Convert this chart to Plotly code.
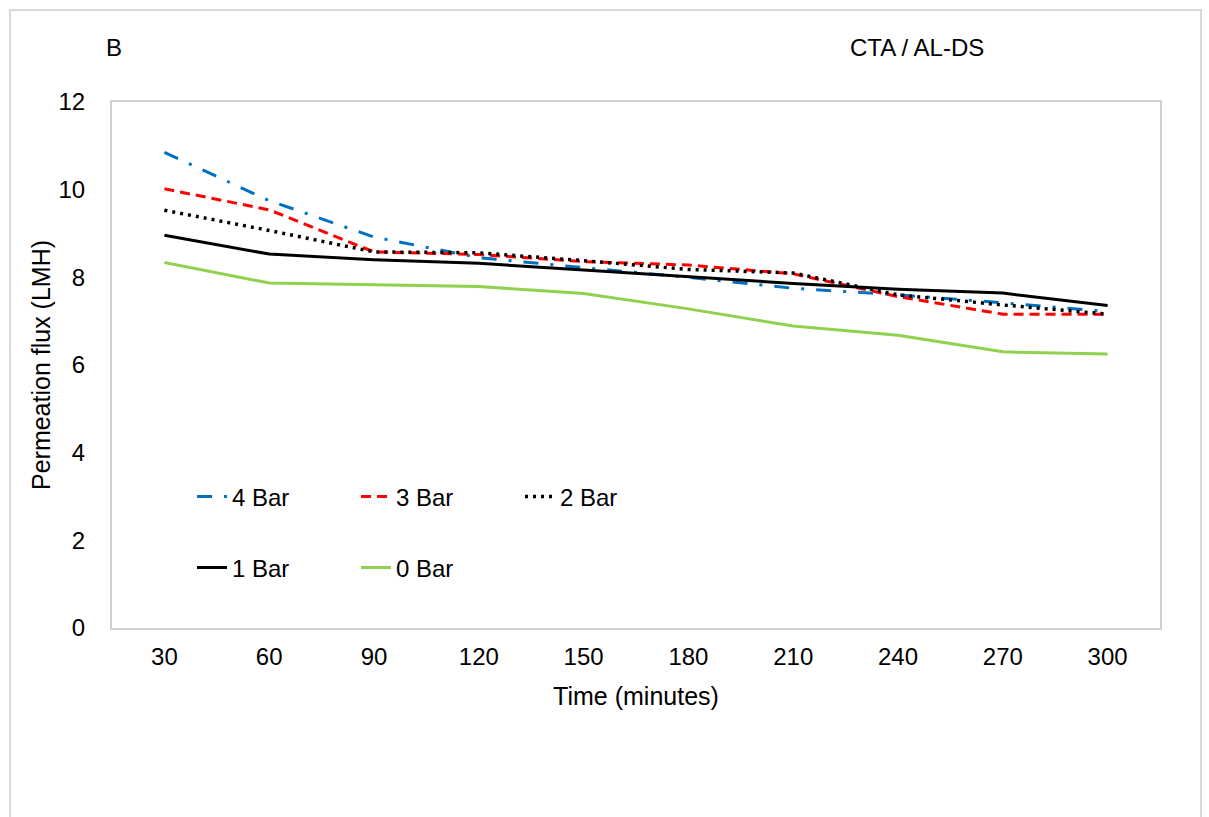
import plotly.graph_objects as go

# Sampling times (minutes) and permeation flux (LMH) at each applied pressure
time_min = ["30", "60", "90", "120", "150", "180", "210", "240", "270", "300"]
flux_4bar = [10.85, 9.75, 8.92, 8.45, 8.22, 8.00, 7.75, 7.60, 7.42, 7.22]
flux_3bar = [10.02, 9.54, 8.58, 8.52, 8.36, 8.28, 8.08, 7.56, 7.16, 7.16]
flux_2bar = [9.53, 9.07, 8.58, 8.56, 8.38, 8.18, 8.10, 7.60, 7.37, 7.16]
flux_1bar = [8.96, 8.53, 8.40, 8.32, 8.17, 8.02, 7.86, 7.73, 7.64, 7.36]
flux_0bar = [8.34, 7.87, 7.83, 7.79, 7.63, 7.28, 6.89, 6.68, 6.30, 6.25]
y_ticks = [0, 2, 4, 6, 8, 10, 12]

FONT = "Liberation Sans, Arial, sans-serif"

series = [
    ("4 Bar", flux_4bar, "#0070C0", "15px,12px,3px,12px", 3, "legend"),
    ("3 Bar", flux_3bar, "#FF0000", "10px,6px", 3, "legend"),
    ("2 Bar", flux_2bar, "#000000", "3px,5px", 3.5, "legend"),
    ("1 Bar", flux_1bar, "#000000", "solid", 3, "legend2"),
    ("0 Bar", flux_0bar, "#92D050", "solid", 3, "legend2"),
]

fig = go.Figure()
for name, vals, color, dash, width, leg in series:
    fig.add_trace(go.Scatter(
        x=time_min, y=vals, name=name, mode="lines",
        line=dict(color=color, width=width, dash=dash),
        legend=leg,
    ))

legend_style = dict(
    orientation="h", xanchor="left", yanchor="middle",
    font=dict(family=FONT, size=24, color="#000000"),
    bgcolor="rgba(0,0,0,0)", entrywidth=119, entrywidthmode="pixels",
)

# Plot area in pixels: x 112..1160, y 102..628
PL, PR, PT, PB = 112, 1160, 102, 628
PW, PH = PR - PL, PB - PT


def px_x(v):
    return (v - PL) / PW


def px_y(v):
    return (PB - v) / PH


fig.update_layout(
    width=1209, height=817,
    margin=dict(l=PL, r=1209 - PR, t=PT, b=817 - PB),
    paper_bgcolor="white", plot_bgcolor="white",
    font=dict(family=FONT, size=24, color="#000000"),
    showlegend=True,
    legend=dict(x=px_x(192), y=px_y(497), **legend_style),
    legend2=dict(x=px_x(192), y=px_y(568), **legend_style),
    xaxis=dict(
        type="category", range=[-0.5, 9.5],
        showgrid=False, zeroline=False, ticks="",
        showline=True, mirror=True, linecolor="#D0D0D0", linewidth=2,
        tickfont=dict(family=FONT, size=24, color="#000000"),
        ticklabelstandoff=6,
        title=dict(text="Time (minutes)", standoff=19,
                   font=dict(family=FONT, size=25, color="#000000")),
    ),
    yaxis=dict(
        range=[0, 12], tickvals=y_ticks,
        showgrid=False, zeroline=False, ticks="",
        showline=True, mirror=True, linecolor="#D0D0D0", linewidth=2,
        tickfont=dict(family=FONT, size=24, color="#000000"),
        ticklabelstandoff=20,
        title=dict(text="Permeation flux (LMH)", standoff=1,
                   font=dict(family=FONT, size=25, color="#000000")),
    ),
    annotations=[
        dict(text="B", x=px_x(114), y=px_y(48), xref="paper", yref="paper",
             xanchor="center", yanchor="middle",
             showarrow=False, font=dict(family=FONT, size=24)),
        dict(text="CTA / AL-DS", x=px_x(917), y=px_y(48), xref="paper", yref="paper",
             xanchor="center", yanchor="middle",
             showarrow=False, font=dict(family=FONT, size=24)),
    ],
    shapes=[
        dict(type="rect", xref="paper", yref="paper",
             x0=px_x(10), x1=px_x(1201), y0=px_y(840), y1=px_y(10),
             line=dict(color="#D9D9D9", width=2), fillcolor="rgba(0,0,0,0)",
             layer="below"),
    ],
)

fig.write_html("out.html")
